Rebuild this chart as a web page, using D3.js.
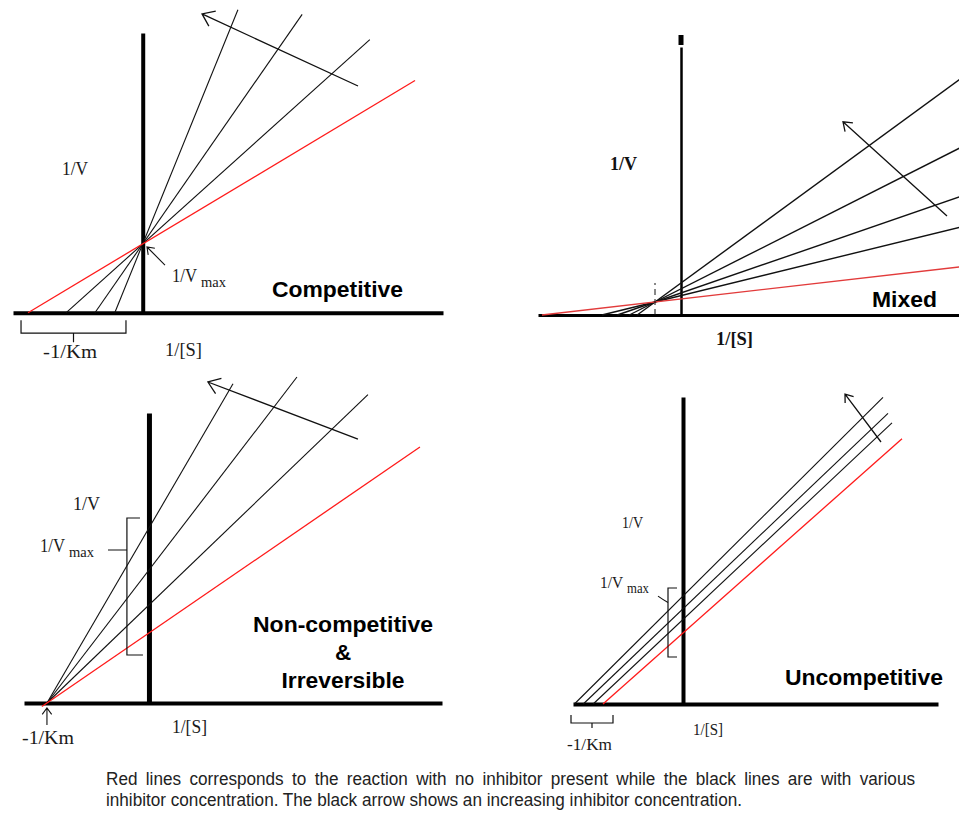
<!DOCTYPE html>
<html>
<head>
<meta charset="utf-8">
<script src="https://cdn.jsdelivr.net/npm/d3@7"></script>
<style>
  html, body { margin: 0; padding: 0; background: #fff; }
  svg { display: block; }
  .serif { font-family: "Liberation Serif", "Times New Roman", serif; fill: #1a1a1a; }
  .serif-bold { font-family: "Liberation Serif", "Times New Roman", serif; font-weight: bold; fill: #111; }
  .title { font-family: "Liberation Sans", Arial, sans-serif; font-weight: bold; fill: #000; }
  .caption { font-family: "Liberation Sans", Arial, sans-serif; fill: #222; }
</style>
</head>
<body>
<svg id="chart" width="959" height="814"></svg>
<script>
// Lineweaver–Burk plots (1/V against 1/[S], arbitrary units).
// Every straight line is y = intercept + slope * x, drawn from its
// x-intercept out to xEnd.

// Competitive: all lines share the 1/Vmax intercept
const competitiveRed = [{ slope: 1.0, intercept: 1, xEnd: 2.374 }];
const competitiveBlack = [
  { slope: 1.5, intercept: 1, xEnd: 1.98 },
  { slope: 2.4, intercept: 1, xEnd: 1.39 },
  { slope: 4.1, intercept: 1, xEnd: 0.83 }
];

// Mixed: lines pivot on a point left of the 1/V axis
const mixedPivot = [-1, 1];
const mixedRedSlopes = [0.23];
const mixedBlackSlopes = [0.49, 0.69, 1.01, 1.46];
const mixedXEnd = 10.85;

// Non-competitive & irreversible: common -1/Km, rising 1/Vmax
const noncompRed = [{ slope: 1.0, intercept: 1.0, xEnd: 2.657 }];
const noncompBlack = [
  { slope: 1.4, intercept: 1.4, xEnd: 2.147 },
  { slope: 1.9, intercept: 1.9, xEnd: 1.451 },
  { slope: 2.5, intercept: 2.5, xEnd: 0.824 }
];

// Uncompetitive: near-parallel lines
const uncompRed = [{ slope: 1.0, intercept: 1.0, xEnd: 2.7375 }];
const uncompBlack = [
  { slope: 1.06, intercept: 1.19, xEnd: 2.6125 },
  { slope: 1.075, intercept: 1.34, xEnd: 2.5625 },
  { slope: 1.12, intercept: 1.52, xEnd: 2.5 }
];

// Annotation arrows ([from, to] in data units) showing rising inhibitor
const competitiveArrow = [[1.877, 3.295], [0.517, 4.342]];
const mixedArrow = [[10.23, 7.615], [6.23, 14.85]];
const noncompArrow = [[2.049, 3.771], [0.578, 4.586]];
const uncompArrow = [[2.475, 3.69], [2.025, 4.366]];

// Text labels
const axisLabels = { v: "1/V", s: "1/[S]", km: "-1/Km", vmaxMain: "1/V", vmaxSub: "max" };
const panelTitles = ["Competitive", "Mixed", "Non-competitive", "&", "Irreversible", "Uncompetitive"];
const captionLines = [
  "Red lines corresponds to the reaction with no inhibitor present while the black lines are with various",
  "inhibitor concentration. The black arrow shows an increasing inhibitor concentration."
];

// ---------------------------------------------------------------------
const svg = d3.select("#chart");
const RED = "#ff1a1a";
const INK = "#111";

function makePanel(cfg) {
  const x = d3.scaleLinear().domain(cfg.xDomain).range(cfg.xRange);
  const y = d3.scaleLinear().domain(cfg.yDomain).range(cfg.yRange);
  const g = svg.append("g");

  // axes: bare domain lines, no ticks
  const xa = g.append("g").attr("transform", `translate(0,${y(0)})`)
    .call(d3.axisBottom(x).tickValues([]).tickSizeOuter(0));
  xa.select(".domain").attr("stroke", "#000").attr("stroke-width", cfg.xAxisWidth);
  const ya = g.append("g").attr("transform", `translate(${x(0)},0)`)
    .call(d3.axisLeft(y).tickValues([]).tickSizeOuter(0));
  ya.select(".domain").attr("stroke", "#000").attr("stroke-width", cfg.yAxisWidth);

  return { g, x, y };
}

function drawLines(p, lines, color, width) {
  const line = d3.line().x(d => p.x(d[0])).y(d => p.y(d[1]));
  p.g.selectAll(null).data(lines).enter().append("path")
    .attr("d", d => {
      const x0 = d.xStart !== undefined ? d.xStart : -d.intercept / d.slope;
      return line([[x0, d.intercept + d.slope * x0], [d.xEnd, d.intercept + d.slope * d.xEnd]]);
    })
    .attr("fill", "none")
    .attr("stroke", color)
    .attr("stroke-width", width);
}

function arrow(g, p0, p1, head, width) {
  const [x0, y0] = p0, [x1, y1] = p1;
  const a = Math.atan2(y0 - y1, x0 - x1);
  const spread = 36 * Math.PI / 180;
  const h1 = [x1 + head * Math.cos(a + spread), y1 + head * Math.sin(a + spread)];
  const h2 = [x1 + head * Math.cos(a - spread), y1 + head * Math.sin(a - spread)];
  g.append("path")
    .attr("d", `M${x0},${y0}L${x1},${y1}M${h1[0]},${h1[1]}L${x1},${y1}L${h2[0]},${h2[1]}`)
    .attr("fill", "none").attr("stroke", INK).attr("stroke-width", width)
    .attr("stroke-linejoin", "miter");
}

function dataArrow(p, pts, head, width) {
  arrow(p.g, [p.x(pts[0][0]), p.y(pts[0][1])], [p.x(pts[1][0]), p.y(pts[1][1])], head, width);
}

function text(g, str, x, y, cls, size, opts = {}) {
  const t = g.append("text").attr("class", cls).attr("x", x).attr("y", y)
    .attr("font-size", size).text(str);
  if (opts.anchor) t.attr("text-anchor", opts.anchor);
  if (opts.len) t.attr("textLength", opts.len).attr("lengthAdjust", "spacingAndGlyphs");
  return t;
}

function vmaxLabel(g, x, y, mainSize, subSize, mainLen, subLen) {
  text(g, axisLabels.vmaxMain, x, y, "serif", mainSize, { len: mainLen });
  text(g, axisLabels.vmaxSub, x + mainLen + 4, y + 5, "serif", subSize, { len: subLen });
}

function path(g, d, width, extra = {}) {
  const el = g.append("path").attr("d", d).attr("fill", "none")
    .attr("stroke", INK).attr("stroke-width", width);
  Object.entries(extra).forEach(([k, v]) => el.attr(k, v));
  return el;
}

// ---------------- Competitive ----------------
{
  const p = makePanel({
    xDomain: [-1.131, 2.618], xRange: [13, 443],
    yDomain: [0, 4.065], yRange: [312.7, 33],
    xAxisWidth: 4, yAxisWidth: 4
  });
  drawLines(p, competitiveBlack, INK, 1.1);
  drawLines(p, competitiveRed, RED, 1.3);
  dataArrow(p, competitiveArrow, 14, 1.3);
  // pointer to 1/Vmax
  dataArrow(p, [[0.194, 0.693], [0.037, 0.955]], 8, 1.1);

  // -1/Km bracket below the axis
  const b0 = p.x(-1.061), b1 = p.x(-0.146), bm = (b0 + b1) / 2, by = p.y(0) + 20.5;
  path(p.g, `M${b0},${by - 13}V${by}H${b1}V${by - 13}M${bm},${by}V${by + 9}`, 1.2);

  text(p.g, axisLabels.v, 62, 175, "serif", 18.5, { len: 26 });
  vmaxLabel(p.g, 172, 282, 18.5, 15, 25, 25);
  text(p.g, axisLabels.km, 43, 358, "serif", 19, { len: 54 });
  text(p.g, axisLabels.s, 165, 356, "serif", 19, { len: 37 });
  text(p.g, panelTitles[0], 272, 297, "title", 22.5, { len: 131 });
}

// ---------------- Mixed ----------------
{
  const p = makePanel({
    xDomain: [-5.5, 10.73], xRange: [538, 960],
    yDomain: [0, 20.6], yRange: [315, 47],
    xAxisWidth: 3, yAxisWidth: 2.5
  });
  const toLines = slopes => slopes.map(s => ({
    slope: s, intercept: mixedPivot[1] - s * mixedPivot[0], xEnd: mixedXEnd
  }));
  drawLines(p, toLines(mixedBlackSlopes), INK, 1.4);
  drawLines(p, toLines(mixedRedSlopes), "#e23b3b", 1.3);
  // dashed guide through the pivot
  path(p.g, `M${p.x(mixedPivot[0])},${p.y(0)}V${p.y(2.46)}`, 1, { "stroke-dasharray": "6,4" });
  // cap at the top of the 1/V axis
  p.g.append("rect").attr("x", p.x(0) - 2.5).attr("y", p.y(20.6) - 12)
    .attr("width", 5).attr("height", 10).attr("fill", "#000");
  dataArrow(p, mixedArrow, 10, 1.3);

  text(p.g, axisLabels.v, 610, 170, "serif-bold", 18, { len: 27 });
  text(p.g, axisLabels.s, 716, 345, "serif-bold", 19, { len: 37 });
  text(p.g, panelTitles[1], 872, 307, "title", 22.5, { len: 65 });
}

// ---------------- Non-competitive & Irreversible ----------------
{
  const p = makePanel({
    xDomain: [-1.225, 2.873], xRange: [24, 442],
    yDomain: [0, 4.143], yRange: [703, 413],
    xAxisWidth: 4, yAxisWidth: 5
  });
  drawLines(p, noncompBlack, INK, 1.1);
  drawLines(p, noncompRed.map(d => ({ ...d, xStart: -1.05 })), RED, 1.3);
  dataArrow(p, noncompArrow, 14, 1.3);
  // pointer up to -1/Km
  dataArrow(p, [[-1, -0.314], [-1, -0.07]], 8, 1.1);

  // 1/Vmax bracket spanning the intercepts
  const bx = p.x(-0.216), bt = p.y(2.643), bb = p.y(0.686), tickY = p.y(2.186);
  path(p.g, `M${p.x(-0.088)},${bt}H${bx}V${bb}H${p.x(-0.059)}M${p.x(-0.402)},${tickY}H${bx}`, 1.2);

  text(p.g, axisLabels.v, 73, 510, "serif", 19, { len: 27 });
  vmaxLabel(p.g, 40, 552, 18.5, 15, 25, 25);
  text(p.g, axisLabels.km, 22, 744, "serif", 19, { len: 52 });
  text(p.g, axisLabels.s, 172, 733, "serif", 19, { len: 35 });
  text(p.g, panelTitles[2], 343, 632, "title", 22.5, { anchor: "middle", len: 180 });
  text(p.g, panelTitles[3], 343, 660, "title", 22.5, { anchor: "middle" });
  text(p.g, panelTitles[4], 343, 688, "title", 22.5, { anchor: "middle", len: 123 });
}

// ---------------- Uncompetitive ----------------
{
  const p = makePanel({
    xDomain: [-1.375, 3.1875], xRange: [573, 938],
    yDomain: [0, 4.324], yRange: [704, 397],
    xAxisWidth: 4, yAxisWidth: 4
  });
  drawLines(p, uncompBlack, INK, 1.1);
  drawLines(p, uncompRed, RED, 1.3);
  dataArrow(p, uncompArrow, 9, 1.3);

  // 1/Vmax bracket
  const bx = p.x(-0.1875), bt = p.y(1.634), bb = p.y(0.662), be = p.x(-0.075);
  path(p.g, `M${be},${bt}H${bx}V${bb}H${be}`, 1.2);
  path(p.g, `M${p.x(-0.3125)},${p.y(1.52)}Q${p.x(-0.25)},${p.y(1.47)} ${bx},${p.y(1.43)}`, 1.1);

  // -1/Km bracket
  const k0 = p.x(-1.4), k1 = p.x(-0.875), km = (k0 + k1) / 2, ky = p.y(0) + 19;
  path(p.g, `M${k0},${ky - 8}V${ky}H${k1}V${ky - 8}M${km},${ky}V${ky + 5}`, 1.2);

  text(p.g, axisLabels.v, 622, 528, "serif", 16.5, { len: 21 });
  vmaxLabel(p.g, 600, 588, 16.5, 14, 23, 22);
  text(p.g, axisLabels.km, 567, 750, "serif", 17.5, { len: 45 });
  text(p.g, axisLabels.s, 693, 735, "serif", 17.5, { len: 30 });
  text(p.g, panelTitles[5], 785, 685, "title", 22.5, { len: 158 });
}

// ---------------- Caption (condensed, first line justified) ----------------
{
  const left = 106, right = 915, size = 17.5, line2Width = 636;
  const measure = str => {
    const t = text(svg, str, 0, -50, "caption", size);
    const wd = t.node().getComputedTextLength();
    t.remove();
    return wd;
  };
  // condense both lines by the same factor
  const squeeze = Math.min(1, line2Width / measure(captionLines[1]));
  const words = captionLines[0].split(" ");
  const widths = words.map(w => measure(w) * squeeze);
  const gap = (right - left - d3.sum(widths)) / (words.length - 1);
  let cx = left;
  words.forEach((w, i) => {
    text(svg, w, cx, 785, "caption", size, { len: widths[i] });
    cx += widths[i] + gap;
  });
  text(svg, captionLines[1], left, 806, "caption", size, { len: line2Width });
}
</script>
</body>
</html>
